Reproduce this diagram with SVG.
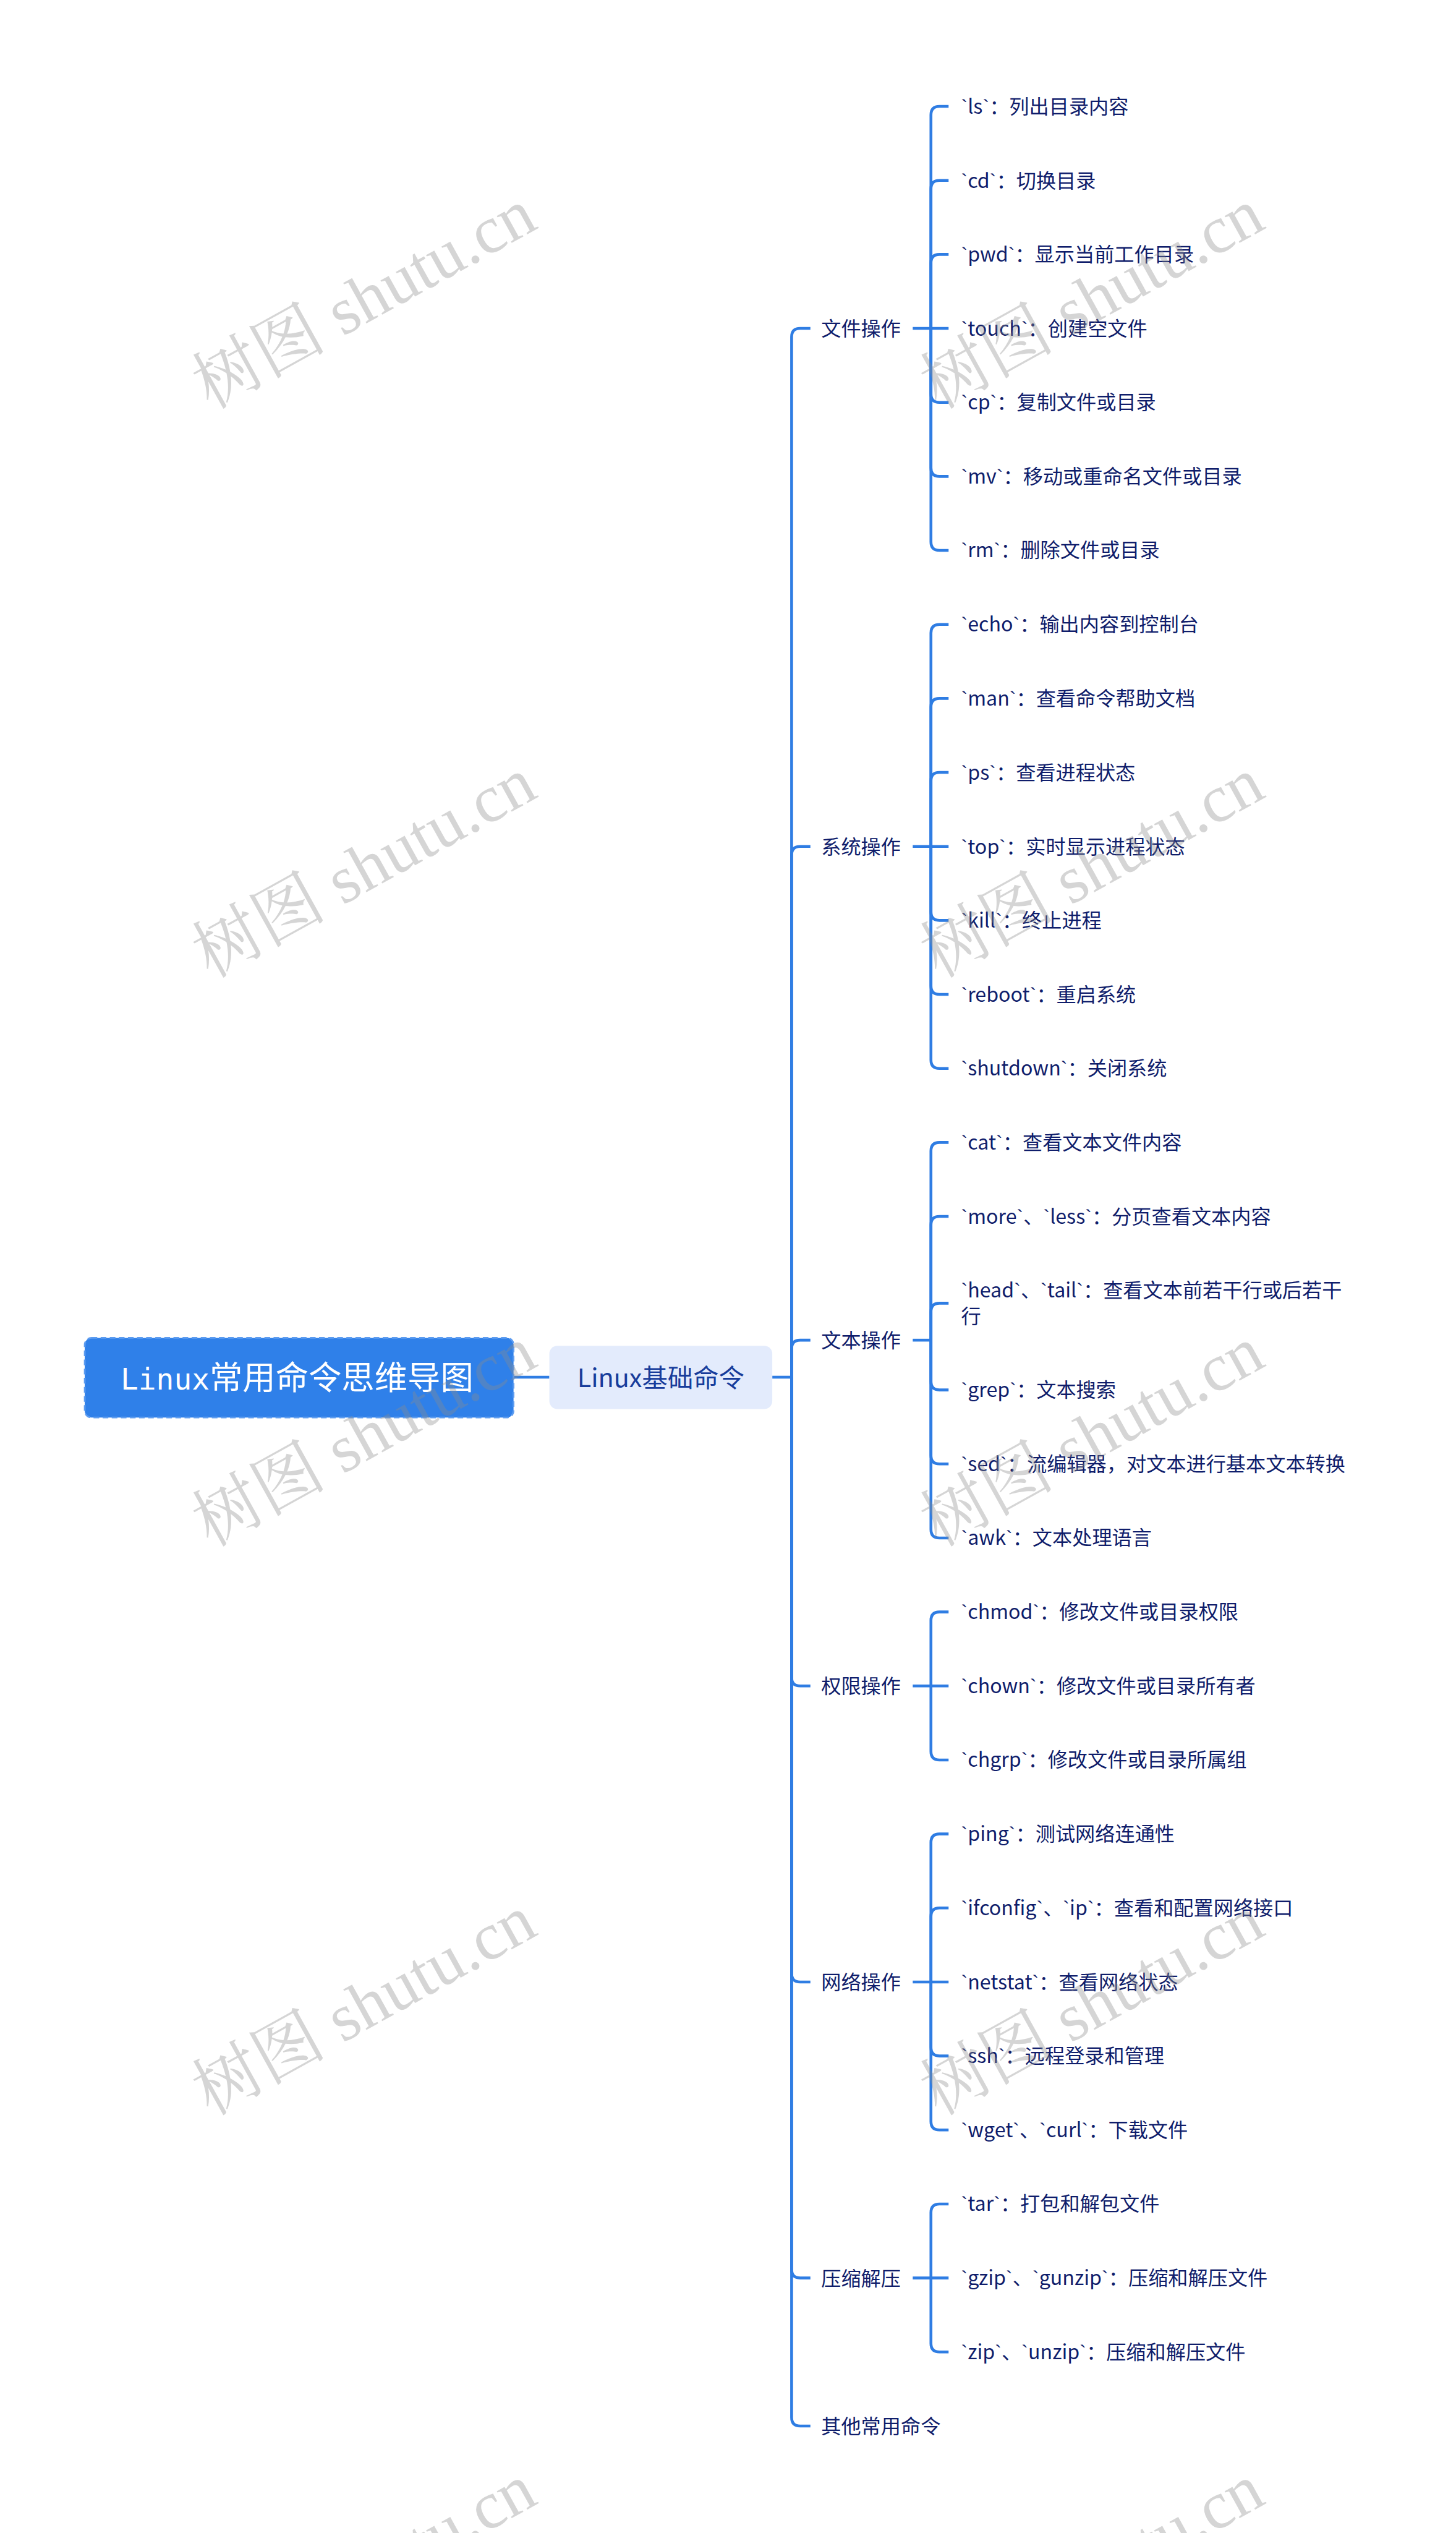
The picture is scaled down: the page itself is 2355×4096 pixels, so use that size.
<svg xmlns="http://www.w3.org/2000/svg" width="2355" height="4096" viewBox="0 0 2355 4096">
<style>
.ln{fill:none;stroke:#2f7de3;stroke-width:5;stroke-linecap:butt;stroke-linejoin:round}
.t{font-family:"Noto Sans CJK SC","Noto Sans",sans-serif;font-size:35px;fill:#0f1d6b}
.b{font-family:"Liberation Sans",sans-serif}
.l1{font-family:"Noto Sans CJK SC","Noto Sans",sans-serif;font-size:45px;fill:#173c9b}
.root{font-family:"Noto Sans CJK SC","Noto Sans",sans-serif;font-size:58px;fill:#ffffff}
.wm{font-family:"Liberation Serif","Noto Serif CJK SC","Noto Sans CJK SC",serif;font-size:118px;fill:#8a8a8a;fill-opacity:0.36}
</style>
<rect x="0" y="0" width="2355" height="4096" fill="#ffffff"/>
<g transform="scale(0.91983)">
<g id="connectors">
<path class="ln" d="M903 2421.1H966"/>
<path class="ln" d="M1358 2421.1H1392"/>
<path class="ln" d="M1392 2421.1V592.3Q1392 577.3 1407 577.3H1425"/>
<path class="ln" d="M1392 2421.1V1503Q1392 1488 1407 1488H1425"/>
<path class="ln" d="M1392 2421.1V2371Q1392 2356 1407 2356H1425"/>
<path class="ln" d="M1392 2421.1V2948.9Q1392 2963.9 1407 2963.9H1425"/>
<path class="ln" d="M1392 2421.1V3469.3Q1392 3484.3 1407 3484.3H1425"/>
<path class="ln" d="M1392 2421.1V3989.7Q1392 4004.7 1407 4004.7H1425"/>
<path class="ln" d="M1392 2421.1V4249.9Q1392 4264.9 1407 4264.9H1425"/>
<path class="ln" d="M1605 577.3H1668"/>
<path class="ln" d="M1637 577.3V202Q1637 187 1652 187H1668"/>
<path class="ln" d="M1637 577.3V332.1Q1637 317.1 1652 317.1H1668"/>
<path class="ln" d="M1637 577.3V462.2Q1637 447.2 1652 447.2H1668"/>
<path class="ln" d="M1637 577.3V692.4Q1637 707.4 1652 707.4H1668"/>
<path class="ln" d="M1637 577.3V822.5Q1637 837.5 1652 837.5H1668"/>
<path class="ln" d="M1637 577.3V952.6Q1637 967.6 1652 967.6H1668"/>
<path class="ln" d="M1605 1488H1668"/>
<path class="ln" d="M1637 1488V1112.7Q1637 1097.7 1652 1097.7H1668"/>
<path class="ln" d="M1637 1488V1242.8Q1637 1227.8 1652 1227.8H1668"/>
<path class="ln" d="M1637 1488V1372.9Q1637 1357.9 1652 1357.9H1668"/>
<path class="ln" d="M1637 1488V1603.1Q1637 1618.1 1652 1618.1H1668"/>
<path class="ln" d="M1637 1488V1733.2Q1637 1748.2 1652 1748.2H1668"/>
<path class="ln" d="M1637 1488V1863.3Q1637 1878.3 1652 1878.3H1668"/>
<path class="ln" d="M1605 2356H1637"/>
<path class="ln" d="M1637 2356V2023.4Q1637 2008.4 1652 2008.4H1668"/>
<path class="ln" d="M1637 2356V2153.5Q1637 2138.5 1652 2138.5H1668"/>
<path class="ln" d="M1637 2356V2306Q1637 2291 1652 2291H1668"/>
<path class="ln" d="M1637 2356V2428.5Q1637 2443.5 1652 2443.5H1668"/>
<path class="ln" d="M1637 2356V2558.6Q1637 2573.6 1652 2573.6H1668"/>
<path class="ln" d="M1637 2356V2688.7Q1637 2703.7 1652 2703.7H1668"/>
<path class="ln" d="M1605 2963.9H1668"/>
<path class="ln" d="M1637 2963.9V2848.8Q1637 2833.8 1652 2833.8H1668"/>
<path class="ln" d="M1637 2963.9V3079Q1637 3094 1652 3094H1668"/>
<path class="ln" d="M1605 3484.3H1668"/>
<path class="ln" d="M1637 3484.3V3239.1Q1637 3224.1 1652 3224.1H1668"/>
<path class="ln" d="M1637 3484.3V3369.2Q1637 3354.2 1652 3354.2H1668"/>
<path class="ln" d="M1637 3484.3V3599.4Q1637 3614.4 1652 3614.4H1668"/>
<path class="ln" d="M1637 3484.3V3729.5Q1637 3744.5 1652 3744.5H1668"/>
<path class="ln" d="M1605 4004.7H1668"/>
<path class="ln" d="M1637 4004.7V3889.6Q1637 3874.6 1652 3874.6H1668"/>
<path class="ln" d="M1637 4004.7V4119.8Q1637 4134.8 1652 4134.8H1668"/>
</g>
<g id="root">
<rect x="149" y="2352" width="754" height="140" rx="12" fill="#2f80e9" stroke="#5d9cf0" stroke-width="3" stroke-dasharray="10 6"/>
<text class="root" x="212" y="2443"><tspan font-family="DejaVu Sans Mono" font-size="52">Linux</tspan>常用命令思维导图</text>
</g>
<g id="n-l1">
<rect x="966" y="2366" width="392" height="111" rx="14" fill="#e3ebfc"/>
<text class="l1" x="1162" y="2438" text-anchor="middle">Linux基础命令</text>
</g>
<g id="n-file"><text class="t" x="1444" y="590">文件操作</text></g>
<g id="n-sys"><text class="t" x="1444" y="1501">系统操作</text></g>
<g id="n-text"><text class="t" x="1444" y="2369">文本操作</text></g>
<g id="n-perm"><text class="t" x="1444" y="2977">权限操作</text></g>
<g id="n-net"><text class="t" x="1444" y="3497">网络操作</text></g>
<g id="n-comp"><text class="t" x="1444" y="4018">压缩解压</text></g>
<g id="n-other"><text class="t" x="1444" y="4278">其他常用命令</text></g>
<g id="leaves">
<g id="n-ls"><text class="t" x="1690" y="200"><tspan class="b">`</tspan>ls<tspan class="b">`</tspan>：列出目录内容</text></g>
<g id="n-cd"><text class="t" x="1690" y="330"><tspan class="b">`</tspan>cd<tspan class="b">`</tspan>：切换目录</text></g>
<g id="n-pwd"><text class="t" x="1690" y="460"><tspan class="b">`</tspan>pwd<tspan class="b">`</tspan>：显示当前工作目录</text></g>
<g id="n-touch"><text class="t" x="1690" y="590"><tspan class="b">`</tspan>touch<tspan class="b">`</tspan>：创建空文件</text></g>
<g id="n-cp"><text class="t" x="1690" y="720"><tspan class="b">`</tspan>cp<tspan class="b">`</tspan>：复制文件或目录</text></g>
<g id="n-mv"><text class="t" x="1690" y="850"><tspan class="b">`</tspan>mv<tspan class="b">`</tspan>：移动或重命名文件或目录</text></g>
<g id="n-rm"><text class="t" x="1690" y="980"><tspan class="b">`</tspan>rm<tspan class="b">`</tspan>：删除文件或目录</text></g>
<g id="n-echo"><text class="t" x="1690" y="1110.5"><tspan class="b">`</tspan>echo<tspan class="b">`</tspan>：输出内容到控制台</text></g>
<g id="n-man"><text class="t" x="1690" y="1240.5"><tspan class="b">`</tspan>man<tspan class="b">`</tspan>：查看命令帮助文档</text></g>
<g id="n-ps"><text class="t" x="1690" y="1370.5"><tspan class="b">`</tspan>ps<tspan class="b">`</tspan>：查看进程状态</text></g>
<g id="n-top"><text class="t" x="1690" y="1501"><tspan class="b">`</tspan>top<tspan class="b">`</tspan>：实时显示进程状态</text></g>
<g id="n-kill"><text class="t" x="1690" y="1631"><tspan class="b">`</tspan>kill<tspan class="b">`</tspan>：终止进程</text></g>
<g id="n-reboot"><text class="t" x="1690" y="1761"><tspan class="b">`</tspan>reboot<tspan class="b">`</tspan>：重启系统</text></g>
<g id="n-shutdown"><text class="t" x="1690" y="1891"><tspan class="b">`</tspan>shutdown<tspan class="b">`</tspan>：关闭系统</text></g>
<g id="n-cat"><text class="t" x="1690" y="2021"><tspan class="b">`</tspan>cat<tspan class="b">`</tspan>：查看文本文件内容</text></g>
<g id="n-more"><text class="t" x="1690" y="2151"><tspan class="b">`</tspan>more<tspan class="b">`</tspan>、<tspan class="b">`</tspan>less<tspan class="b">`</tspan>：分页查看文本内容</text></g>
<g id="n-head"><text class="t" x="1690" y="2281"><tspan class="b">`</tspan>head<tspan class="b">`</tspan>、<tspan class="b">`</tspan>tail<tspan class="b">`</tspan>：查看文本前若干行或后若干<tspan x="1690" y="2327">行</tspan></text></g>
<g id="n-grep"><text class="t" x="1690" y="2456"><tspan class="b">`</tspan>grep<tspan class="b">`</tspan>：文本搜索</text></g>
<g id="n-sed"><text class="t" x="1690" y="2586"><tspan class="b">`</tspan>sed<tspan class="b">`</tspan>：流编辑器，对文本进行基本文本转换</text></g>
<g id="n-awk"><text class="t" x="1690" y="2716"><tspan class="b">`</tspan>awk<tspan class="b">`</tspan>：文本处理语言</text></g>
<g id="n-chmod"><text class="t" x="1690" y="2846.5"><tspan class="b">`</tspan>chmod<tspan class="b">`</tspan>：修改文件或目录权限</text></g>
<g id="n-chown"><text class="t" x="1690" y="2976.5"><tspan class="b">`</tspan>chown<tspan class="b">`</tspan>：修改文件或目录所有者</text></g>
<g id="n-chgrp"><text class="t" x="1690" y="3106.5"><tspan class="b">`</tspan>chgrp<tspan class="b">`</tspan>：修改文件或目录所属组</text></g>
<g id="n-ping"><text class="t" x="1690" y="3236.5"><tspan class="b">`</tspan>ping<tspan class="b">`</tspan>：测试网络连通性</text></g>
<g id="n-ifconfig"><text class="t" x="1690" y="3366.5"><tspan class="b">`</tspan>ifconfig<tspan class="b">`</tspan>、<tspan class="b">`</tspan>ip<tspan class="b">`</tspan>：查看和配置网络接口</text></g>
<g id="n-netstat"><text class="t" x="1690" y="3497"><tspan class="b">`</tspan>netstat<tspan class="b">`</tspan>：查看网络状态</text></g>
<g id="n-ssh"><text class="t" x="1690" y="3627"><tspan class="b">`</tspan>ssh<tspan class="b">`</tspan>：远程登录和管理</text></g>
<g id="n-wget"><text class="t" x="1690" y="3757"><tspan class="b">`</tspan>wget<tspan class="b">`</tspan>、<tspan class="b">`</tspan>curl<tspan class="b">`</tspan>：下载文件</text></g>
<g id="n-tar"><text class="t" x="1690" y="3887"><tspan class="b">`</tspan>tar<tspan class="b">`</tspan>：打包和解包文件</text></g>
<g id="n-gzip"><text class="t" x="1690" y="4017"><tspan class="b">`</tspan>gzip<tspan class="b">`</tspan>、<tspan class="b">`</tspan>gunzip<tspan class="b">`</tspan>：压缩和解压文件</text></g>
<g id="n-zip"><text class="t" x="1690" y="4147"><tspan class="b">`</tspan>zip<tspan class="b">`</tspan>、<tspan class="b">`</tspan>unzip<tspan class="b">`</tspan>：压缩和解压文件</text></g>
</g>
<g id="watermarks">
<text class="wm" x="640" y="525" text-anchor="middle" dominant-baseline="central" transform="rotate(-29 640 525)">树图 shutu.cn</text>
<text class="wm" x="1920" y="525" text-anchor="middle" dominant-baseline="central" transform="rotate(-29 1920 525)">树图 shutu.cn</text>
<text class="wm" x="640" y="1525" text-anchor="middle" dominant-baseline="central" transform="rotate(-29 640 1525)">树图 shutu.cn</text>
<text class="wm" x="1920" y="1525" text-anchor="middle" dominant-baseline="central" transform="rotate(-29 1920 1525)">树图 shutu.cn</text>
<text class="wm" x="640" y="2525" text-anchor="middle" dominant-baseline="central" transform="rotate(-29 640 2525)">树图 shutu.cn</text>
<text class="wm" x="1920" y="2525" text-anchor="middle" dominant-baseline="central" transform="rotate(-29 1920 2525)">树图 shutu.cn</text>
<text class="wm" x="640" y="3525" text-anchor="middle" dominant-baseline="central" transform="rotate(-29 640 3525)">树图 shutu.cn</text>
<text class="wm" x="1920" y="3525" text-anchor="middle" dominant-baseline="central" transform="rotate(-29 1920 3525)">树图 shutu.cn</text>
<text class="wm" x="640" y="4525" text-anchor="middle" dominant-baseline="central" transform="rotate(-29 640 4525)">树图 shutu.cn</text>
<text class="wm" x="1920" y="4525" text-anchor="middle" dominant-baseline="central" transform="rotate(-29 1920 4525)">树图 shutu.cn</text>
</g>
</g>
</svg>
